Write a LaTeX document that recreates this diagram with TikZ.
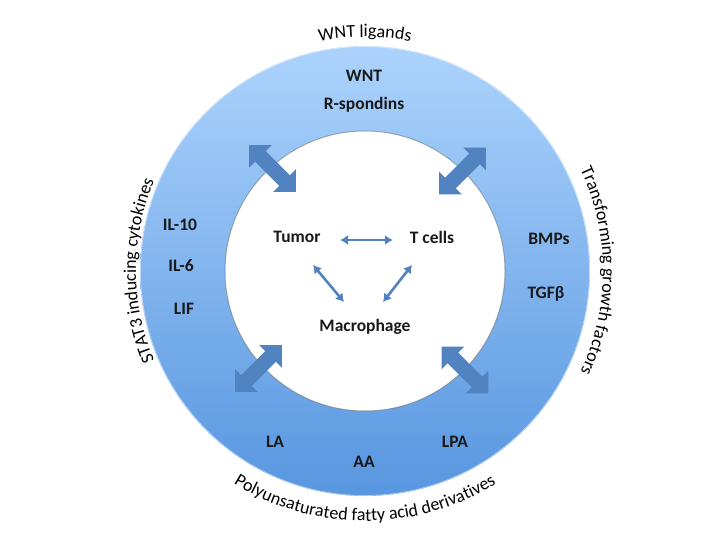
\documentclass[tikz,border=0pt]{standalone}
\usepackage{fontspec}
\setmainfont{Carlito}
\usetikzlibrary{arrows.meta,decorations.text}
\definecolor{arrowblue}{RGB}{82,131,193}
\definecolor{ringtop}{RGB}{172,211,252}
\definecolor{ringbot}{RGB}{88,150,224}
\newcommand{\lblfont}{\fontsize{17.5}{20}\selectfont\bfseries}
\newcommand{\curvefont}{\fontsize{18}{21}\selectfont}
\begin{document}
\begin{tikzpicture}[x=1pt,y=1pt,
  lbl/.style={font=\lblfont, inner sep=1pt, text=black!90},
  smallarrow/.style={draw=arrowblue, line width=2.6pt, {Latex[length=8pt,width=10pt]}-{Latex[length=8pt,width=10pt]}},
  bigarrow/.pic={\fill[arrowblue] (-33,0) -- (-17,16) -- (-17,7.5) -- (17,7.5) -- (17,16) -- (33,0) -- (17,-16) -- (17,-7.5) -- (-17,-7.5) -- (-17,-16) -- cycle;},
  curvetext/.style={decorate, decoration={text along path, text align=center, text={|\curvefont|#1}}}
]
\useasboundingbox (0,0) rectangle (720,540);
\coordinate (C) at (365,269);
% ring
\shade[top color=ringtop, bottom color=ringbot, even odd rule]
  (C) circle[radius=225pt] (C) circle[radius=140pt];
\draw[white, opacity=0.5, line width=0.8pt] (C) circle[radius=224.5pt];
\draw[black!55, opacity=0.55, line width=1pt] (C) circle[radius=140pt];

% curved titles
\path[curvetext={WNT ligands}] (C) ++(115:234) arc[start angle=115, end angle=65, radius=234pt];
\path[curvetext={STAT3 inducing cytokines}] (C) ++(215:229) arc[start angle=215, end angle=145, radius=229pt];
\path[curvetext={Transforming growth factors}] (C) ++(35:238) arc[start angle=35, end angle=-35, radius=238pt];
\path[curvetext={Polyunsaturated fatty acid derivatives}] (C) ++(220:250) arc[start angle=220, end angle=320, radius=250pt];

% ring labels
\node[lbl] (wnt) at (364,464) {WNT};
\node[lbl] (rspo) at (364,435) {R-spondins};
\node[lbl] (il10) at (180,315) {IL-10};
\node[lbl] (il6) at (181,274) {IL-6};
\node[lbl] (lif) at (184,231) {LIF};
\node[lbl] (bmp) at (549,301) {BMPs};
\node[lbl] (tgf) at (546,246) {TGFβ};
\node[lbl] (la) at (275,98) {LA};
\node[lbl] (aa) at (364,78) {AA};
\node[lbl] (lpa) at (455,98) {LPA};

% centre
\node[lbl] (tumor) at (297,303) {Tumor};
\node[lbl] (tcells) at (432,303) {T cells};
\node[lbl] (mac) at (365,213) {Macrophage};

\coordinate (t1) at (340,300);
\coordinate (t2) at (393,300);
\coordinate (m1) at (313,275);
\coordinate (m2) at (344,238);
\coordinate (m3) at (412,275);
\coordinate (m4) at (383,238);
\draw[smallarrow] (t1) -- (t2);
\draw[smallarrow] (m1) -- (m2);
\draw[smallarrow] (m3) -- (m4);

% big arrows
\pic[rotate=-45] at (272.5,371.5) {bigarrow};
\pic[rotate=45] at (462.5,369) {bigarrow};
\pic[rotate=45] at (258.5,171.5) {bigarrow};
\pic[rotate=-45] at (465,170) {bigarrow};
\end{tikzpicture}
\end{document}
